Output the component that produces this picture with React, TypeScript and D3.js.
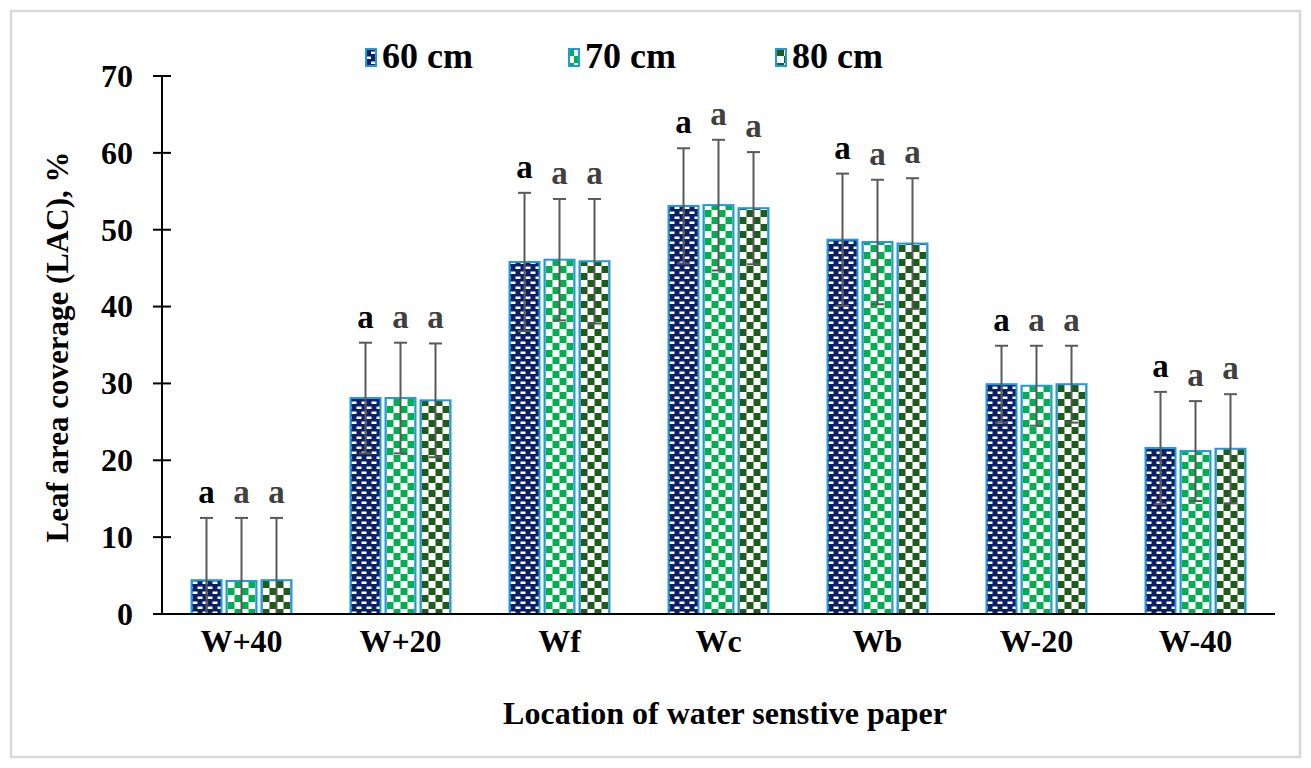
import { scaleBand, scaleLinear } from "d3";

// Leaf area coverage by paper location, three nozzle heights
const locations = ["W+40", "W+20", "Wf", "Wc", "Wb", "W-20", "W-40"];
const heights = ["60 cm", "70 cm", "80 cm"];

const lac60 = [4.4, 28.1, 45.8, 53.1, 48.7, 29.9, 21.6];
const lac70 = [4.3, 28.1, 46.1, 53.2, 48.4, 29.7, 21.2];
const lac80 = [4.4, 27.8, 45.9, 52.8, 48.2, 29.9, 21.5];

const sd60 = [8.1, 7.2, 9.0, 7.5, 8.6, 5.0, 7.3];
const sd70 = [8.2, 7.2, 7.9, 8.5, 8.1, 5.2, 6.5];
const sd80 = [8.1, 7.4, 8.1, 7.3, 8.5, 5.0, 7.1];

const letters = ["a", "a", "a"];
const yTicks = [0, 10, 20, 30, 40, 50, 60, 70];

const values = [lac60, lac70, lac80];
const errors = [sd60, sd70, sd80];
const fills = ["url(#dash60)", "url(#check70)", "url(#check80)"];
const letterColors = ["#000000", "#404040", "#404040"];

const FONT = "'Liberation Serif', 'Times New Roman', serif";
const W = 1311;
const H = 768;

export default function App() {
  const x = scaleBand<string>().domain(locations).range([162, 1275]);
  const xInner = scaleBand<string>()
    .domain(heights)
    .range([-52.5, 52.5])
    .paddingInner(0.143)
    .paddingOuter(0.0715);
  const y = scaleLinear().domain([0, 70]).range([614, 76]);
  const bw = xInner.bandwidth();
  const legendX = [366, 569, 776];

  return (
    <svg
      width={W}
      height={H}
      style={{ position: "absolute", left: 0, top: 0, background: "#fff" }}
      fontFamily={FONT}
    >
      <defs>
        <pattern id="dash60" patternUnits="userSpaceOnUse" width={10} height={10}>
          <rect width={10} height={10} fill="#0b1f66" />
          <rect x={1} y={1.5} width={5} height={2.5} fill="#fff" />
          <rect x={6} y={6.5} width={4} height={2.5} fill="#fff" />
          <rect x={0} y={6.5} width={1} height={2.5} fill="#fff" />
        </pattern>
        <pattern id="check70" patternUnits="userSpaceOnUse" width={14} height={14}>
          <rect width={14} height={14} fill="#fff" />
          <rect x={0} y={0} width={7} height={7} fill="#00b050" />
          <rect x={7} y={7} width={7} height={7} fill="#00b050" />
        </pattern>
        <pattern id="check80" patternUnits="userSpaceOnUse" width={14} height={14}>
          <rect width={14} height={14} fill="#fff" />
          <rect x={0} y={0} width={7} height={7} fill="#1d5c1b" />
          <rect x={7} y={7} width={7} height={7} fill="#1d5c1b" />
        </pattern>
      </defs>

      {/* frame */}
      <rect x={11} y={11} width={1289} height={746} fill="#fff" stroke="#d9d9d9" strokeWidth={2.5} />

      {/* legend */}
      {heights.map((h, i) => (
        <g key={h}>
          <rect
            x={legendX[i]}
            y={49}
            width={10}
            height={17}
            fill={fills[i]}
            stroke="#1e9bdf"
            strokeWidth={2}
          />
          <text x={legendX[i] + 16} y={68} fontSize={36} fontWeight="bold" fill="#000">
            {h}
          </text>
        </g>
      ))}

      {/* bars, error bars and letters */}
      {locations.map((loc, ci) => (
        <g key={loc} transform={`translate(${x(loc)! + x.bandwidth() / 2},0)`}>
          {heights.map((h, si) => {
            const v = values[si][ci];
            const e = errors[si][ci];
            const bx = xInner(h)!;
            const cx = bx + bw / 2;
            const yTop = y(v + e);
            const yLow = y(Math.max(0, v - e));
            return (
              <g key={h}>
                <rect
                  x={bx}
                  y={y(v)}
                  width={bw}
                  height={y(0) - y(v)}
                  fill={fills[si]}
                  stroke="#1e9bdf"
                  strokeWidth={2}
                />
                <line x1={cx} x2={cx} y1={yTop} y2={yLow} stroke="#595959" strokeWidth={2} />
                <line x1={cx - 6.5} x2={cx + 6.5} y1={yTop} y2={yTop} stroke="#595959" strokeWidth={2} />
                {v - e > 0 && (
                  <line x1={cx - 6.5} x2={cx + 6.5} y1={yLow} y2={yLow} stroke="#595959" strokeWidth={2} />
                )}
                <text
                  x={cx}
                  y={yTop - 15}
                  textAnchor="middle"
                  fontSize={33}
                  fontWeight="bold"
                  fill={letterColors[si]}
                >
                  {letters[si]}
                </text>
              </g>
            );
          })}
        </g>
      ))}

      {/* y axis */}
      <line x1={162} x2={162} y1={y(70)} y2={y(0)} stroke="#000" strokeWidth={2} />
      {yTicks.map((t) => (
        <g key={t}>
          <line x1={153} x2={171} y1={y(t)} y2={y(t)} stroke="#000" strokeWidth={2} />
          <text
            x={133}
            y={y(t)}
            dy="0.34em"
            textAnchor="end"
            fontSize={32}
            fontWeight="bold"
            fill="#000"
          >
            {t}
          </text>
        </g>
      ))}

      {/* x axis */}
      <line x1={153} x2={1275} y1={y(0)} y2={y(0)} stroke="#000" strokeWidth={2} />
      {locations.map((loc) => (
        <text
          key={loc}
          x={x(loc)! + x.bandwidth() / 2}
          y={652}
          textAnchor="middle"
          fontSize={32}
          fontWeight="bold"
          fill="#000"
        >
          {loc}
        </text>
      ))}

      <text x={725} y={724} textAnchor="middle" fontSize={32} fontWeight="bold" fill="#000">
        Location of water senstive paper
      </text>
      <text
        transform="translate(68,347) rotate(-90)"
        textAnchor="middle"
        fontSize={31}
        fontWeight="bold"
        fill="#000"
      >
        Leaf area coverage (LAC), %
      </text>
    </svg>
  );
}
